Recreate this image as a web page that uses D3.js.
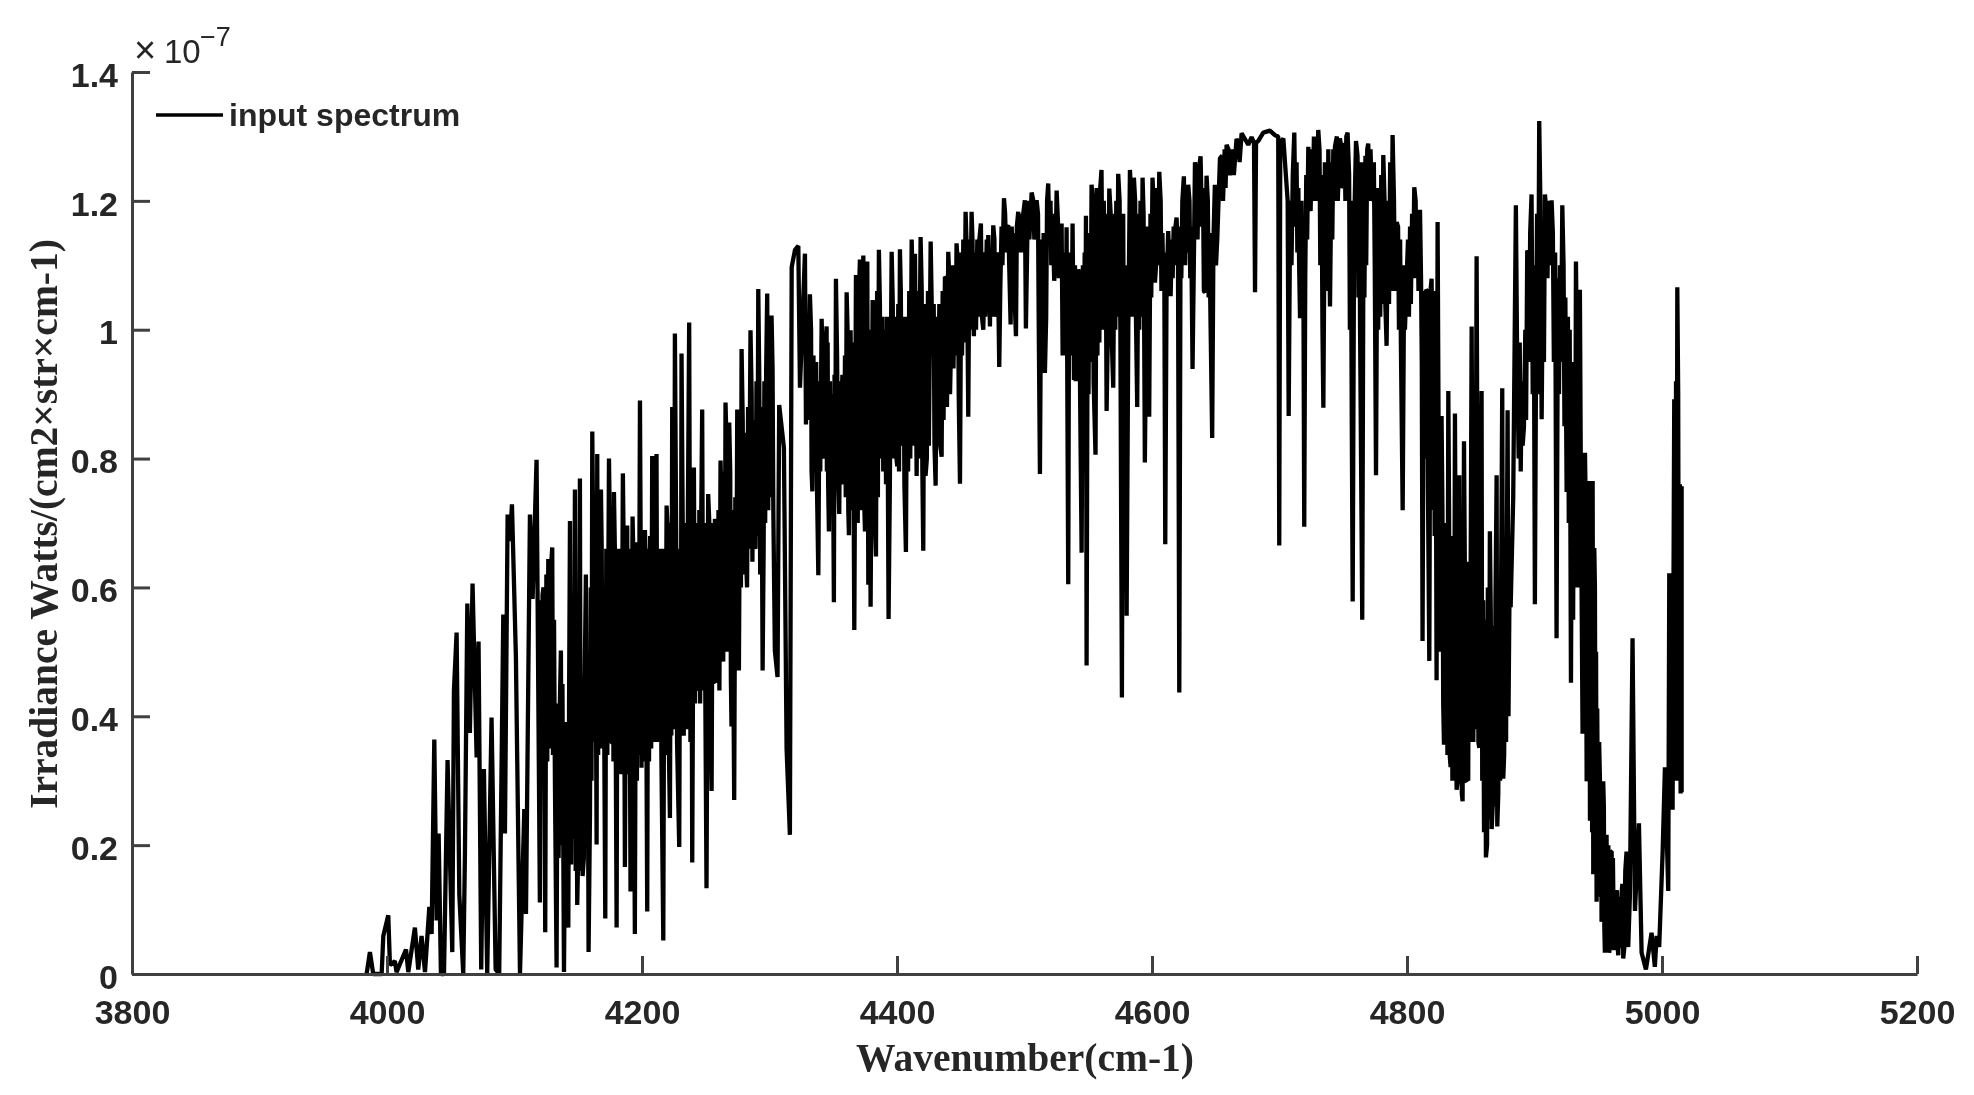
<!DOCTYPE html>
<html><head><meta charset="utf-8">
<script src="https://cdn.jsdelivr.net/npm/d3@7"></script>
<style>html,body{margin:0;padding:0;background:#fff}svg{display:block;filter:blur(0.5px)}</style>
</head><body><svg id="c" width="1974" height="1095"></svg>
<script>
const xTicks=[3800,4000,4200,4400,4600,4800,5000,5200];
const yTicks=[0,0.2,0.4,0.6,0.8,1,1.2,1.4];
const seriesName="input spectrum";
const xTitle="Wavenumber(cm-1)";
const yTitle="Irradiance Watts/(cm2×str×cm-1)";
const wavenumber=[3984,3986.6,3989.2,3995.8,3997.1,4001,4002.3,4006.2,4007.5,4014.9,4016.7,4021.9,4024.5,4027.1,4029.8,4033.2,4035,4037.1,4038.9,4040.5,4042.3,4044.7,4047.5,4051.2,4052.5,4054.6,4056.7,4059.8,4061.1,4063,4065,4067.1,4070.3,4071.8,4073.9,4076,4078.6,4082,4085.2,4088,4091.2,4092.5,4094.6,4096.4,4098,4101.1,4104.3,4107.7,4109,4112.1,4114.2,4117.3,4119.9,4122,4124.1,4126.5,4129.6,4133,4136.4,4138.8,4140.3,4142.2,4143.5,4146.1,4147.4,4149.2,4151.3,4153.4,4156,4158.1,4161,4164.4,4164.9,4167.8,4171.2,4174.1,4176.1,4178,4180.1,4181.4,4185,4186.6,4188.4,4191,4192.6,4194.4,4198.4,4200.2,4202.3,4204.1,4208,4211.4,4213.3,4216.7,4219.3,4221.9,4223.7,4225.8,4229.2,4231,4233.7,4237,4239.4,4240.7,4244.1,4247.2,4250.6,4251.9,4254.6,4257.2,4259,4261.6,4263.7,4265.5,4268.4,4270.2,4272.3,4274.7,4276,4278.1,4281.5,4285.1,4288,4291.2,4294.6,4298.2,4301.6,4304.2,4306.3,4307.6,4311.3,4313.4,4316,4317.4,4320,4322.6,4323.9,4327.8,4328.6,4331.7,4333.6,4335.6,4338.3,4340.9,4342.2,4344.8,4346.6,4348.7,4350.5,4352.1,4354.7,4356.6,4358.4,4360.5,4362.3,4363.6,4366.5,4367.8,4370.9,4373.6,4374.9,4376.7,4377.5,4379.3,4380.9,4383.5,4385.8,4387.9,4389.8,4393.4,4395.8,4398.4,4400.2,4402.3,4404.4,4407,4411.5,4414.1,4415.4,4418.5,4420.6,4422.4,4426.4,4427.9,4430.3,4432.4,4435,4437.6,4440.2,4442.3,4446.7,4449.4,4453.8,4455.9,4458.5,4460.3,4465.8,4467.7,4471.6,4472.9,4475.5,4478.1,4480.2,4483.9,4487.3,4489.1,4493.3,4495.1,4500.3,4501.1,4505.6,4509.5,4512.1,4516,4518.6,4523.3,4525.2,4529.1,4529.9,4533,4534.3,4537.7,4538.8,4542.2,4544.8,4548.2,4548.7,4552.6,4555.7,4560.4,4564.4,4566.5,4569.6,4573.5,4576.4,4580.1,4582.7,4585.8,4588.4,4592.6,4594.4,4597.8,4600.4,4602.3,4605.7,4610.4,4612.7,4614.6,4619.3,4621.4,4625,4628.4,4631.8,4633.7,4638.1,4641.5,4642.8,4647.2,4649.3,4651.2,4653.3,4658.5,4662.4,4666.3,4670.3,4675.5,4678.1,4680.8,4683.4,4687.3,4692.5,4696.4,4699.8,4703,4707.2,4711.6,4716.1,4719.4,4722.6,4724.4,4730.4,4734.4,4738.3,4739.6,4743.5,4747.4,4750,4753.4,4757.4,4760,4764.9,4769.6,4772.3,4775.7,4781.4,4784,4788.7,4791.9,4796.6,4799.7,4805.7,4810.2,4812.2,4814.9,4817.5,4819.3,4823.2,4824,4827.1,4829,4832.4,4834.2,4837.6,4838.9,4841,4843.6,4844.7,4846.8,4850.7,4854.6,4856.7,4858.5,4861.9,4865,4866.4,4870.3,4870.8,4874.7,4875.5,4878.9,4881.3,4883.3,4885.4,4891.7,4894.3,4897.7,4900.3,4903.7,4905.6,4908.2,4913.4,4917.3,4921.8,4925.2,4928.6,4932.5,4935.6,4937.7,4939.6,4940.9,4943,4943.5,4945.6,4946.1,4946.9,4948.7,4949.2,4951.3,4952.6,4953.9,4955.2,4956.5,4958.6,4960.5,4962.3,4963.9,4965.7,4968.3,4969.6,4972.2,4973.5,4974.8,4976.9,4978.8,4981.9,4984,4987.4,4991.8,4994.4,4995.8,4997.8,5000.5,5002.3,5004.9,5005.7,5008.3,5009.6,5012,5015.4,5015.4];
const irradiance=[0,0.034,0,0,0.059,0.091,0.014,0.02,0.003,0.038,0.003,0.072,0.007,0.059,0.003,0.104,0.062,0.364,0.083,0.218,0,0,0.332,0.034,0.44,0.53,0.124,0,0.183,0.575,0.374,0.606,0.336,0.516,0.007,0.318,0,0.398,0.007,0,0.558,0.218,0.713,0.672,0.729,0.492,0,0.256,0.093,0.713,0.582,0.798,0.111,0.589,0.065,0.644,0.662,0.01,0.502,0.003,0.391,0.072,0.703,0.221,0.752,0.107,0.769,0.152,0.62,0.034,0.842,0.201,0.807,0.752,0.086,0.8,0.36,0.748,0.072,0.637,0.777,0.166,0.696,0.128,0.71,0.062,0.89,0.454,0.689,0.097,0.804,0.807,0.551,0.052,0.727,0.242,0.88,0.994,0.197,0.963,0.492,1.011,0.173,0.786,0.45,0.876,0.133,0.745,0.284,0.706,0.452,0.797,0.485,0.887,0.856,0.384,0.27,0.876,0.471,0.97,0.651,0.999,0.665,1.063,0.471,1.056,1.022,0.502,0.461,0.883,0.817,0.35,0.216,1.097,1.124,1.13,0.91,1.118,0.853,1.055,0.749,0.916,0.619,1.017,0.815,1.005,0.687,0.862,0.577,1.079,0.714,0.892,0.764,1.058,0.681,0.999,0.534,1.085,1.109,1.115,0.687,1.106,0.604,0.57,1.046,0.648,1.124,1.008,0.818,0.551,1.121,0.904,0.788,1.125,0.904,0.655,1.14,1.118,0.773,1.144,0.657,0.773,1.137,0.96,0.758,0.892,0.803,1.082,1.121,0.969,1.134,0.761,1.183,0.865,1.183,0.99,1.165,1,1.147,1.005,1.162,1.04,0.942,1.204,1.162,1.008,0.99,1.183,1.201,1.002,1.213,1.201,0.776,0.933,1.227,1.076,1.216,1.165,0.96,1.159,0.605,1.165,0.922,1.094,0.654,1.177,0.479,1.225,0.806,1.248,0.874,1.219,0.91,1.242,0.429,0.556,1.248,1.236,0.88,1.236,0.794,0.865,1.236,1.073,1.245,0.667,1.153,1.052,1.174,0.437,1.238,1.225,0.939,1.26,1.269,1.058,1.239,0.832,1.225,1.141,1.266,1.287,1.254,1.296,1.305,1.287,1.299,1.058,1.293,1.306,1.309,1.302,0.665,1.297,0.866,1.306,1.018,0.694,1.284,1.184,1.31,0.879,1.28,1.036,1.284,1.297,1.223,1.306,0.578,1.293,0.55,1.289,1.21,0.774,1.271,0.975,1.302,1.167,0.72,1.079,1.221,1.186,0.517,1.062,0.486,1.079,0.456,1.167,0.866,0.356,0.905,0.321,0.87,0.286,0.774,0.268,0.827,0.299,1.005,1.114,0.351,0.905,0.181,0.687,0.225,0.774,0.229,0.909,0.303,0.875,0.569,0.739,1.193,0.848,1.123,1.21,0.574,1.324,0.861,1.21,1.201,0.521,1.193,0.748,0.452,1.106,1.062,0.373,0.809,0.299,0.765,0.238,0.765,0.155,0.661,0.112,0.412,0.303,0.081,0.299,0.033,0.216,0.033,0.19,0.037,0.125,0.029,0.125,0.024,0.19,0.042,0.12,0.521,0.098,0.234,0.033,0.007,0.064,0.011,0.059,0.042,0.19,0.321,0.129,0.622,0.255,0.892,1.066,0.757,0.282];
const fineStructure=[[4120.6,.58],[4121.2,.30],[4122.8,.60],[4123.4,.36],[4125,.62],[4125.7,.33],[4127,.60],[4127.9,.35],[4128.6,.63],[4130.2,.34],[4131,.55],[4131.7,.30],[4133.8,.42],[4134.6,.18],[4135.4,.40],[4137,.20],[4137.6,.45],[4139.4,.16],[4141,.38],[4141.6,.20],[4142.8,.42],[4144.4,.17],[4145,.43],[4145.6,.21],[4146.8,.44],[4148,.16],[4148.6,.40],[4150,.19],[4150.6,.42],[4152,.16],[4152.7,.46],[4154.4,.18],[4155,.45],[4156.8,.22],[4157.4,.44],[4159.2,.25],[4159.8,.60],[4160.4,.3],[4162,.62],[4162.8,.36],[4163.4,.64],[4165.6,.34],[4166.4,.63],[4167,.36],[4168.4,.66],[4169,.35],[4169.8,.6],[4170.5,.33],[4172,.66],[4172.8,.34],[4175,.66],[4175.5,.36],[4177,.68],[4177.6,.33],[4178.8,.65],[4179.4,.36],[4180.8,.66],[4182,.32],[4183,.66],[4183.8,.31],[4185.6,.67],[4187,.34],[4187.7,.65],[4189,.31],[4190,.66],[4191.6,.33],[4193.2,.65],[4193.8,.31],[4195.4,.67],[4196,.3],[4196.8,.66],[4197.4,.34],[4199,.65],[4199.6,.32],[4201,.6],[4201.6,.33],[4203,.63],[4203.6,.31],[4204.8,.66],[4205.5,.33],[4206.4,.68],[4207.2,.35],[4209,.66],[4209.7,.36],[4210.6,.68],[4212,.36],[4214.4,.66],[4215.2,.34],[4217.6,.66],[4218.2,.34],[4220.3,.68],[4221,.36],[4222.7,.7],[4223,.37],[4224.6,.7],[4225.2,.38],[4226.8,.68],[4227.5,.36],[4230,.66],[4230.5,.38],[4232,.68],[4232.7,.37],[4234.6,.7],[4235.2,.38],[4236,.72],[4238,.36],[4238.7,.68],[4241.6,.42],[4242.4,.7],[4243,.44],[4245,.72],[4245.6,.42],[4246.4,.7],[4248,.44],[4249,.7],[4249.7,.42],[4252.8,.7],[4253.4,.44],[4255.4,.7],[4256,.45],[4258,.7],[4258.5,.46],[4260,.72],[4260.7,.44],[4262.4,.72],[4263,.5],[4264.4,.78],[4264.9,.5],[4266.6,.8],[4267.4,.5],[4269.2,.78],[4269.7,.46],[4271,.72],[4271.7,.45],[4273.2,.74],[4273.9,.5],[4275,.8],[4275.5,.56],[4277,.84],[4277.6,.6],[4279,.86],[4279.7,.62],[4280.6,.84],[4282.4,.6],[4283.2,.88],[4283.9,.66],[4286,.9],[4286.6,.64],[4287.4,.86],[4289,.66],[4289.8,.92],[4290.5,.68],[4292,.92],[4292.7,.62],[4293.6,.88],[4295.4,.66],[4296,.92],[4296.6,.7],[4297.4,.94],[4299,.72],[4299.7,.96],[4300.4,.74],[4302.4,.94],[4303,.72],
[4329.5,1.0],[4330.2,.86],[4332.6,1.0],[4333,.78],[4334.5,.96],[4335,.78],[4336.6,.95],[4337.2,.76],[4339.2,.92],[4339.8,.78],[4341.6,.95],[4343,.8],[4343.7,.97],[4345,.78],[4345.6,.98],[4346,.76],[4347.4,.92],[4347.9,.78],[4349.5,.9],[4350,.74],[4351,.93],[4351.6,.76],[4353,.96],[4353.7,.78],[4355.5,.92],[4356,.78],[4357.2,.93],[4357.8,.76],[4359.2,.96],[4359.8,.74],[4361.2,1.0],[4361.8,.72],[4363,.96],[4364.6,.72],[4365.4,.98],[4366,.74],[4368.6,1.02],[4369.2,.7],[4370,1.04],[4372,.72],[4372.7,1.06],[4374.2,.74],[4375.6,1.04],[4376.2,.72],[4378.4,1.0],[4379.8,.74],[4381.6,1.02],[4382.4,.72],[4384.4,1.06],[4385,.74],[4386.6,1.04],[4387.2,.8],[4388.6,1.02],[4389.2,.78],[4390.6,1.0],[4391.4,.76],[4392.2,1.02],[4394.4,.76],[4396.7,1.04],[4397.3,.8],[4399,1.02],[4399.6,.8],[4401,1.04],[4401.6,.78],[4403,1.06],[4403.7,.82],[4405.2,1.02],[4405.8,.76],[4408,1.02],[4408.7,.78],[4409.6,1.06],[4410.4,.8],[4412.4,1.06],[4413,.82],[4416.4,1.06],[4417,.8],[4419.4,1.06],[4419.9,.78],[4421.4,1.04],[4423.4,.8],[4424.3,1.06],[4425,.82],[4428.8,1.04],[4429.4,.82],[4431.2,1.02],[4431.8,.84],[4433.2,1.04],[4433.9,.82],[4435.8,1.06],[4436.5,.86],[4438.6,1.08],[4439.2,.88],[4441,1.08],[4441.6,.9],[4443.6,1.1],[4444.3,.94],[4445.4,1.1],[4446,.96],[4447.8,1.1],[4448.4,.9],[4450.4,1.12],[4451,.96],[4452,1.14],[4452.8,.98],[4454.8,1.12],[4455.4,.98],[4456.8,1.14],[4457.4,1],[4459.2,1.14],[4459.8,1.02],[4461.4,1.12],[4462,1.0],[4463,1.14],[4463.8,1.02],[4464.6,1.14],[4466.6,1.02],[4468.6,1.12],[4469.2,1.02],[4470.4,1.14],[4471,1.03],[4473.6,1.12],[4474.2,1.02],[4476.4,1.14],[4477,1.02],[4479,1.12],[4481,1.06],[4482,1.16],[4482.7,1.1],[4484.8,1.18],[4485.6,1.12],[4486.4,1.16],[4488,1.1],[4490,1.16],[4490.7,1.05],[4491.6,1.15],[4492.4,1.04],[4494,1.16],[4496,1.12],[4497,1.18],[4497.7,1.12],[4499,1.18],[4502.2,1.14],[4503,1.2],[4503.8,1.14],[4507,1.2],[4507.7,1.14],[4510.6,1.18],[4511.2,1.0],[4513.2,1.14],[4513.9,.98],[4515,1.15],[4517,1.02],[4517.7,1.2],[4519.6,1.14],[4520.4,1.2],[4521,1.1],[4522,1.18],[4524.2,1.1],[4526.2,1.17],[4527,1.08],[4527.8,1.15],[4528.5,1.08],
[4530.6,1.1],[4531.2,.96],[4531.8,1.12],[4532.4,.98],[4535,1.1],[4535.6,.96],[4536.4,1.12],[4537,.98],[4539.6,1.1],[4540.2,.92],[4541,1.08],[4541.6,.94],[4543,1.08],[4543.6,.9],[4545.8,1.1],[4546.4,.9],[4547.2,1.12],[4547.7,.92],[4549.6,1.1],[4550.2,.9],[4551,1.15],[4551.7,.95],[4553.6,1.2],[4554.2,.92],[4556.6,1.22],[4557.2,.96],[4558,1.22],[4558.7,.98],[4559.4,1.22],[4561.4,1.0],[4562.2,1.2],[4562.9,1.0],[4563.6,1.18],[4565.4,1.0],[4567.6,1.18],[4568.2,1.0],[4570.6,1.18],[4571.2,1.0],[4572,1.2],[4572.7,1.02],[4574.6,1.2],[4575.2,1.0],[4577.4,1.18],[4578,.9],[4578.8,1.1],[4581.4,1.0],[4583.8,1.2],[4584.4,1.02],[4586.8,1.2],[4587.4,1.02],[4589.4,1.18],[4590,1.0],[4591,1.2],[4591.7,1.02],[4593.4,1.18],[4595.4,1.0],[4596,1.16],[4596.7,1.04],[4598.8,1.18],[4599.4,1.05],[4601.2,1.2],[4603.2,1.1],[4604,1.22],[4604.7,1.1],[4606.8,1.2],[4607.4,1.06],[4608.2,1.15],[4608.9,1.06],[4609.6,1.12],[4611.4,1.06],[4615.6,1.14],[4616.2,1.08],[4617,1.16],[4617.7,1.1],[4618.4,1.16],[4620.4,1.1],[4622.4,1.16],[4623,1.08],[4623.8,1.2],[4626,1.1],[4627,1.22],[4627.7,1.12],[4629.4,1.2],[4630,1.08],[4630.7,1.16],[4632.8,1.1],[4635,1.24],[4635.7,1.14],[4636.8,1.25],[4639.2,1.16],[4640,1.22],[4640.7,1.06],[4643.8,1.2],[4644.4,1.05],[4645,1.15],[4646,1.0],[4648.2,1.14],[4650.2,1.1],[4655,1.27],[4655.7,1.2],[4657,1.28],[4657.7,1.22],[4660,1.28],[4661,1.24],[4663.5,1.28],[4664.2,1.24],[4668,1.29],[4668.7,1.26],[4680,1.29],[4681.6,1.29],[4699,1.3],[4700.6,1.29],[4706.4,1.2],
[4708.4,1.2],[4709.4,1.1],[4710.4,1.24],[4712.6,1.16],[4713.4,1.26],[4714,1.12],[4714.8,1.22],[4715.4,1.1],[4717.2,1.2],[4717.9,1.04],[4718.6,1.16],[4720.2,1.08],[4721,1.24],[4721.7,1.14],[4725.4,1.28],[4726,1.2],[4727,1.3],[4727.7,1.2],[4728.6,1.28],[4729.4,1.2],[4731.4,1.28],[4732,1.1],[4733,1.24],[4733.7,1.0],[4735.6,1.26],[4736.2,1.06],[4737,1.24],[4737.6,1.1],[4740.8,1.26],[4741.4,1.14],[4742.2,1.28],[4742.9,1.2],[4745,1.3],[4745.7,1.2],[4748.6,1.28],[4749.2,1.22],[4751,1.29],[4751.7,1.2],[4752.4,1.3],[4754.6,1.24],[4755.2,1.0],[4756,1.2],[4756.7,.85],[4758.4,1.1],[4759,1.2],[4761.2,1.27],[4761.9,1.05],[4762.6,1.26],[4763.2,1.0],[4766,1.26],[4766.6,1.05],[4767.4,1.27],[4768,1.1],[4768.8,1.28],[4770.6,1.2],[4771.4,1.28],[4773.4,1.2],[4774,1.26],[4774.7,1.1],[4776.8,1.22],[4777.4,1.0],[4778.4,1.2],[4779,1.02],[4779.8,1.24],[4780.5,1.04],[4782.4,1.2],[4783,1.04],[4785.2,1.2],[4785.9,1.04],[4786.8,1.26],[4787.5,1.06],[4789.8,1.2],[4790.5,1.06],[4793,1.16],[4793.7,1.0],[4794.6,1.14],[4795.2,.98],[4797.8,1.1],[4798.4,1.0],[4800.8,1.14],[4801.5,1.02],[4802.4,1.16],[4803,1.04],[4804,1.18],[4804.7,1.08],[4806.8,1.2],[4807.4,1.08],[4808.2,1.18],[4809,1.06],[4811,1.08],[4811.6,.95],[4813.2,1.06],[4813.9,.8],[4815.8,1.06],[4816.4,.76],[4818.4,1.06],[4820.2,.72],[4821,1.06],[4821.7,.68],[4822.4,1.0],[4825,.75],[4825.6,.5],
[4827.8,.72],[4828.4,.42],[4829.6,.7],[4830.4,.36],[4831,.68],[4831.7,.34],[4833,.72],[4833.5,.34],[4835,.68],[4835.6,.3],[4836.4,.66],[4836.9,.3],[4838.2,.62],[4839.8,.3],[4840.4,.6],[4841.8,.3],[4842.4,.58],[4843,.28],[4845.4,.62],[4846,.3],[4847.4,.6],[4848,.3],[4848.6,.64],[4849.4,.36],[4851.4,.66],[4852,.36],[4852.7,.7],[4853.4,.38],[4855.4,.68],[4856,.36],[4857.4,.64],[4859,.3],[4859.7,.58],[4860.4,.22],[4861,.55],[4862.8,.2],[4863.4,.6],[4864.2,.24],[4865.7,.56],[4867.2,.26],[4868,.54],[4868.7,.26],[4869.4,.58],[4871.6,.28],[4872.4,.56],[4873,.3],[4873.8,.6],[4876.2,.34],[4877,.58],[4877.7,.36],[4878.2,.6],[4879.6,.4],[4880.5,.62],
[4886.4,.95],[4887.6,.8],[4888.4,.98],[4889.2,.78],[4890,.92],[4890.7,.82],[4892.8,1.0],[4893.4,.86],[4895,1.12],[4895.8,.95],[4896.6,1.15],[4898.6,.9],[4899.4,1.1],[4901.2,.95],[4902,1.18],[4902.7,.9],[4904.6,1.2],[4906.8,1.15],[4907.4,.95],[4909.4,1.18],[4910.2,1.08],[4911,1.2],[4912,1.1],[4914.4,1.15],[4915.2,.95],[4916.2,1.12],[4918.4,1.08],[4919.2,.9],[4920,1.1],[4920.8,.95],[4922.8,1.1],[4923.5,.85],[4924.2,1.05],[4926.2,1.02],[4926.9,.7],[4927.6,1.0],[4929.6,.95],[4930.3,.55],[4931,.95],[4931.8,.6],[4933.4,.95],[4934,.6],[4934.8,.9],[4936.4,.75],
[4938.4,.76],[4939,.38],[4940.2,.72],[4941.6,.34],[4942.3,.7],[4944.4,.3],[4944.9,.62],[4945.2,.22],[4947.4,.6],[4947.9,.18],[4948.3,.5],[4950,.14],[4950.7,.36],[4951.9,.12],[4952.2,.28],[4953.2,.09],[4954.4,.26],[4954.8,.07],[4955.7,.2],[4957.2,.06],[4957.9,.2],[4959.4,.05],[4960,.19],[4961,.05],[4961.5,.18],[4963,.06],[4964.6,.13],[4965,.05],[4966.6,.12],[4967.2,.04],[4968.9,.14],[4970.4,.04],[4971.2,.16],[4972.8,.05],[5006.4,.58],[5006.9,.3],[5007.4,.55],[5010.4,.3],[5011,.92],[5011.4,.35],[5012.7,.9],[5013.3,.3],[5014,.76],[5014.6,.28]];
const spectrum=d3.sort(wavenumber.map((w,i)=>[w,irradiance[i]]).concat(fineStructure),d=>d[0]);
const margin={left:132,right:57,top:72,bottom:121},W=1974,H=1095;
const x=d3.scaleLinear().domain([3800,5200]).range([margin.left,W-margin.right]);
const y=d3.scaleLinear().domain([0,1.4]).range([H-margin.bottom,margin.top]);
const svg=d3.select("#c");
const serif='"Liberation Serif","Times New Roman",serif',sans='"Liberation Sans",Arial,sans-serif';
const line=d3.line().x(d=>x(d[0])).y(d=>y(d[1]));
svg.append("path").attr("d",line(spectrum)).attr("fill","none").attr("stroke","#000").attr("stroke-width",4.3).attr("stroke-linejoin","bevel");
const gx=svg.append("g").attr("transform",`translate(0,${H-margin.bottom})`).call(d3.axisBottom(x).tickValues(xTicks).tickFormat(d3.format("d")).tickSizeInner(-18).tickSizeOuter(0).tickPadding(26));
const gy=svg.append("g").attr("transform",`translate(${margin.left},0)`).call(d3.axisLeft(y).tickValues(yTicks).tickFormat(d=>String(d)).tickSizeInner(-18).tickSizeOuter(0).tickPadding(14));
[gx,gy].forEach(g=>{g.selectAll("path,line").attr("stroke","#404040").attr("stroke-width",3);
 g.selectAll("text").attr("font-family",sans).attr("font-weight",700).attr("font-size",34).attr("fill","#262626");});
gy.selectAll("text").attr("dy","0.42em");
svg.append("text").attr("x",1025).attr("y",1071).attr("text-anchor","middle").attr("font-family",serif).attr("font-weight",700).attr("font-size",39.5).attr("fill","#262626").text(xTitle);
svg.append("text").attr("transform","translate(57,524) rotate(-90)").attr("text-anchor","middle").attr("font-family",serif).attr("font-weight",700).attr("font-size",39.5).attr("fill","#262626").text(yTitle);
svg.append("line").attr("x1",156).attr("x2",223).attr("y1",115).attr("y2",115).attr("stroke","#000").attr("stroke-width",3.5);
svg.append("text").attr("x",229).attr("y",126).attr("font-family",sans).attr("font-weight",700).attr("font-size",32).attr("fill","#262626").text(seriesName);
const ex=svg.append("g").attr("font-family",sans).attr("fill","#262626");
ex.append("text").attr("x",134).attr("y",63).attr("font-size",38).text("×");
ex.append("text").attr("x",164).attr("y",63).attr("font-size",33).text("10");
ex.append("text").attr("x",200).attr("y",46).attr("font-size",27).text("−7");
</script></body></html>
